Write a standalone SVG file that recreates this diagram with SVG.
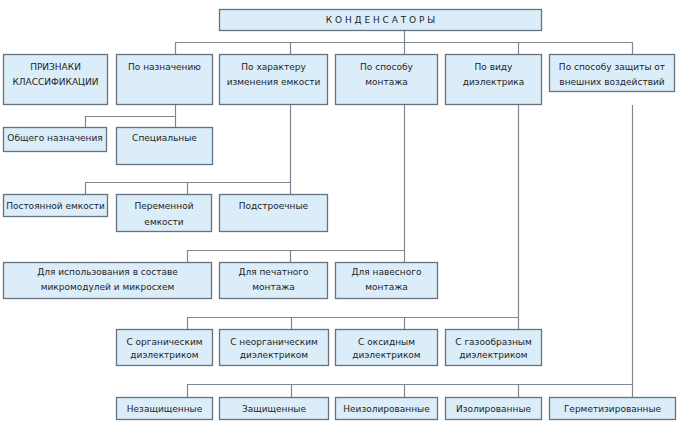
<svg xmlns="http://www.w3.org/2000/svg" width="687" height="427" viewBox="0 0 687 427">
<style>
.b{fill:#dbedf9;stroke:#66727f;stroke-width:1.3}
.t{font-family:"DejaVu Sans","Verdana",sans-serif;font-size:9px;fill:#1e1e28;text-anchor:middle}
.c{fill:none;stroke:#7d8791;stroke-width:1.2}
</style>
<rect width="687" height="427" fill="#ffffff"/>
<g id="connectors" class="c">
<path d="M404.5 30V54M175.5 54V42.5H632.5V54M290.5 42.5V54M518.5 42.5V54"/>
<path d="M175.5 104V116.5H85.5V127M175.5 116.5V127"/>
<path d="M290.5 104V182.5H85.5V194M187.5 182.5V194M290.5 182.5V194"/>
<path d="M404.5 104V250.5H187.5V262M290.5 250.5V262M404.5 250.5V262"/>
<path d="M518.5 104V317.5H187.5V329M291.5 317.5V329M404.5 317.5V329M518.5 317.5V329"/>
<path d="M632.5 105V384.5H187.5V397M291.5 384.5V397M404.5 384.5V397M518.5 384.5V397M632.5 384.5V397"/>
</g>
<g id="root"><rect class="b" x="219.5" y="9.5" width="322" height="21"/><text class="t" x="380.5" y="23">К О Н Д Е Н С А Т О Р Ы</text></g>
<g id="priznaki"><rect class="b" x="3.5" y="54.5" width="104" height="50"/><text class="t" x="55.5" y="70">ПРИЗНАКИ</text><text class="t" x="55.5" y="85">КЛАССИФИКАЦИИ</text></g>
<g id="naznach"><rect class="b" x="116.5" y="54.5" width="96" height="50"/><text class="t" x="164.5" y="70">По назначению</text></g>
<g id="harakter"><rect class="b" x="219.5" y="54.5" width="108" height="50"/><text class="t" x="273.5" y="70">По характеру</text><text class="t" x="273.5" y="85">изменения емкости</text></g>
<g id="montazh"><rect class="b" x="335.5" y="54.5" width="102" height="50"/><text class="t" x="386.5" y="70">По способу</text><text class="t" x="386.5" y="85">монтажа</text></g>
<g id="dielektrik"><rect class="b" x="445.5" y="54.5" width="96" height="50"/><text class="t" x="493.5" y="70">По виду</text><text class="t" x="493.5" y="85">диэлектрика</text></g>
<g id="zaschita"><rect class="b" x="549.5" y="54.5" width="125" height="37"/><text class="t" x="612" y="70">По способу защиты от</text><text class="t" x="612" y="85">внешних воздействий</text></g>
<g id="obschego"><rect class="b" x="3.5" y="127.5" width="103" height="24"/><text class="t" x="55" y="141">Общего назначения</text></g>
<g id="specialnye"><rect class="b" x="116.5" y="127.5" width="96" height="37"/><text class="t" x="164.5" y="141">Специальные</text></g>
<g id="postoyannoy"><rect class="b" x="3.5" y="194.5" width="104" height="22"/><text class="t" x="55.5" y="209">Постоянной емкости</text></g>
<g id="peremennoy"><rect class="b" x="116.5" y="194.5" width="95" height="37"/><text class="t" x="164" y="209">Переменной</text><text class="t" x="164" y="225">емкости</text></g>
<g id="podstroechnye"><rect class="b" x="219.5" y="194.5" width="108" height="37"/><text class="t" x="273.5" y="209">Подстроечные</text></g>
<g id="mikromoduli"><rect class="b" x="3.5" y="262.5" width="208" height="36"/><text class="t" x="107.5" y="275">Для использования в составе</text><text class="t" x="107.5" y="290">микромодулей и микросхем</text></g>
<g id="pechatnogo"><rect class="b" x="219.5" y="262.5" width="108" height="36"/><text class="t" x="273.5" y="275">Для печатного</text><text class="t" x="273.5" y="290">монтажа</text></g>
<g id="navesnogo"><rect class="b" x="335.5" y="262.5" width="102" height="36"/><text class="t" x="386.5" y="275">Для навесного</text><text class="t" x="386.5" y="290">монтажа</text></g>
<g id="organ"><rect class="b" x="116.5" y="329.5" width="96" height="36"/><text class="t" x="164.5" y="345">С органическим</text><text class="t" x="164.5" y="358">диэлектриком</text></g>
<g id="neorgan"><rect class="b" x="219.5" y="329.5" width="109" height="36"/><text class="t" x="274" y="345">С неорганическим</text><text class="t" x="274" y="358">диэлектриком</text></g>
<g id="oksid"><rect class="b" x="335.5" y="329.5" width="102" height="36"/><text class="t" x="386.5" y="345">С оксидным</text><text class="t" x="386.5" y="358">диэлектриком</text></g>
<g id="gaz"><rect class="b" x="445.5" y="329.5" width="96" height="36"/><text class="t" x="493.5" y="345">С газообразным</text><text class="t" x="493.5" y="358">диэлектриком</text></g>
<g id="nezasch"><rect class="b" x="116.5" y="397.5" width="96" height="22"/><text class="t" x="164.5" y="412">Незащищенные</text></g>
<g id="zasch"><rect class="b" x="219.5" y="397.5" width="109" height="22"/><text class="t" x="274" y="412">Защищенные</text></g>
<g id="neizol"><rect class="b" x="335.5" y="397.5" width="102" height="22"/><text class="t" x="386.5" y="412">Неизолированные</text></g>
<g id="izol"><rect class="b" x="445.5" y="397.5" width="96" height="22"/><text class="t" x="493.5" y="412">Изолированные</text></g>
<g id="germet"><rect class="b" x="549.5" y="397.5" width="126" height="22"/><text class="t" x="612.5" y="412">Герметизированные</text></g>
</svg>
